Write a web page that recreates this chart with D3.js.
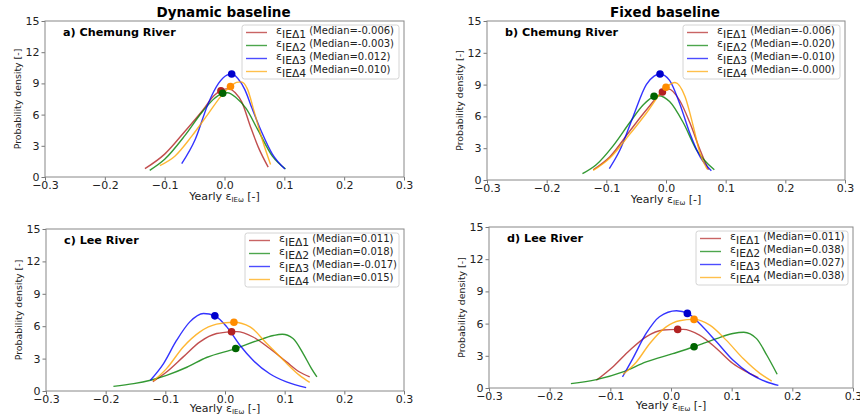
<!DOCTYPE html>
<html>
<head>
<meta charset="utf-8">
<script src="https://cdn.jsdelivr.net/npm/d3@7"></script>
<style>
  body { margin: 0; background: #fff; }
  text { font-family: "DejaVu Sans", sans-serif; }
</style>
</head>
<body>
<svg id="chart" width="860" height="417"></svg>
<script>
// series: eps_IEΔ1..4
const seriesSub = ["IEΔ1", "IEΔ2", "IEΔ3", "IEΔ4"];
const lineColors = ["#b22222", "green", "blue", "orange"];
const dotColors = ["#b22222", "darkgreen", "mediumblue", "darkorange"];
const xTicks = [-0.3, -0.2, -0.1, 0.0, 0.1, 0.2, 0.3];
const yTicks = [0, 3, 6, 9, 12, 15];

// medians shown in legends (as printed)
const medA = ["-0.006", "-0.003", "0.012", "0.010"];
const medB = ["-0.006", "-0.020", "-0.010", "-0.000"];
const medC = ["0.011", "0.018", "-0.017", "0.015"];
const medD = ["0.011", "0.038", "0.027", "0.038"];

// density at the median dot
const dotYA = [8.3, 8.05, 9.9, 8.7];
const dotYB = [8.3, 7.9, 10.0, 8.75];
const dotYC = [5.48, 3.93, 6.96, 6.37];
const dotYD = [5.46, 3.84, 6.95, 6.39];

// density curves, [x, density]
const curvesA = [
  [[-0.133,0.8],[-0.1,2.2],[-0.066,4.4],[-0.038,6.3],[-0.016,7.9],[-0.006,8.3],[0.006,8.5],[0.018,8.1],[0.029,7.2],[0.043,4.9],[0.057,2.8],[0.073,0.95]],
  [[-0.125,0.64],[-0.1,1.7],[-0.066,4.0],[-0.038,6.2],[-0.016,7.6],[-0.003,8.05],[0.005,8.1],[0.02,7.6],[0.036,6.6],[0.056,4.5],[0.08,2.0],[0.102,0.77]],
  [[-0.0715,1.28],[-0.049,3.6],[-0.027,7.1],[-0.01,9.0],[0.004,9.8],[0.012,9.9],[0.022,9.5],[0.034,8.4],[0.046,6.6],[0.063,4.2],[0.08,2.2],[0.101,0.77]],
  [[-0.108,1.1],[-0.083,2.0],[-0.055,3.9],[-0.027,6.1],[-0.004,7.9],[0.010,8.7],[0.02,9.1],[0.028,9.15],[0.038,8.5],[0.05,6.2],[0.063,3.6],[0.077,1.2]]
];
const curvesB = [
  [[-0.122,0.97],[-0.094,2.2],[-0.061,4.6],[-0.033,6.6],[-0.006,8.3],[0.004,8.6],[0.023,7.5],[0.040,5.4],[0.057,2.85],[0.071,0.97]],
  [[-0.140,0.6],[-0.117,1.44],[-0.089,3.2],[-0.061,5.4],[-0.038,7.1],[-0.019,7.9],[-0.012,7.95],[0.006,7.4],[0.029,5.4],[0.051,2.85],[0.081,0.97]],
  [[-0.095,1.07],[-0.077,2.85],[-0.055,6.0],[-0.033,9.0],[-0.02,9.8],[-0.010,10.0],[0.006,9.4],[0.023,7.2],[0.040,4.4],[0.057,2.2],[0.076,0.88]],
  [[-0.122,0.9],[-0.094,2.07],[-0.061,4.3],[-0.033,6.3],[0.000,8.75],[0.015,9.2],[0.032,7.85],[0.046,5.0],[0.057,2.5],[0.069,1.03]]
];
const curvesC = [
  [[-0.121,0.87],[-0.098,1.76],[-0.070,3.16],[-0.042,4.55],[-0.014,5.32],[0.011,5.48],[0.020,5.5],[0.047,5.0],[0.075,3.93],[0.103,2.7],[0.125,1.76],[0.142,1.3]],
  [[-0.187,0.43],[-0.153,0.68],[-0.125,1.0],[-0.098,1.45],[-0.064,2.2],[-0.031,3.1],[0.018,3.93],[0.053,4.64],[0.081,5.14],[0.096,5.26],[0.114,4.86],[0.131,3.47],[0.145,2.07],[0.154,1.3]],
  [[-0.125,1.0],[-0.103,2.54],[-0.081,4.7],[-0.059,6.4],[-0.036,7.18],[-0.017,6.96],[0.003,5.94],[0.025,4.24],[0.047,2.85],[0.075,1.6],[0.103,0.84],[0.136,0.31]],
  [[-0.120,0.93],[-0.098,2.07],[-0.070,4.08],[-0.042,5.48],[-0.014,6.19],[0.015,6.37],[0.042,5.94],[0.070,4.4],[0.098,2.85],[0.125,1.45],[0.142,0.8]]
];
const curvesD = [
  [[-0.123,0.72],[-0.096,1.96],[-0.068,3.52],[-0.041,4.77],[-0.013,5.4],[0.011,5.46],[0.020,5.46],[0.047,4.93],[0.075,3.68],[0.102,2.28],[0.125,1.5],[0.144,0.97]],
  [[-0.165,0.41],[-0.123,0.78],[-0.079,1.5],[-0.041,2.43],[0.003,3.2],[0.038,3.84],[0.075,4.6],[0.102,5.08],[0.120,5.2],[0.141,4.6],[0.158,3.05],[0.175,1.28]],
  [[-0.080,1.03],[-0.063,2.74],[-0.041,5.08],[-0.019,6.64],[0.009,7.2],[0.028,6.95],[0.047,6.0],[0.075,4.3],[0.102,2.6],[0.130,1.34],[0.158,0.56],[0.177,0.25]],
  [[-0.079,1.28],[-0.057,2.43],[-0.035,4.15],[-0.008,5.7],[0.014,6.27],[0.038,6.39],[0.064,5.86],[0.091,4.46],[0.119,2.74],[0.147,1.34],[0.166,0.65]]
];

const svg = d3.select("#chart");

function drawPanel(p)
{
    const x = d3.scaleLinear().domain([-0.3, 0.3]).range([p.left, p.right]);
    const y = d3.scaleLinear().domain([0, 15]).range([p.bottom, p.top]);
    const g = svg.append("g");

    // axes
    const xa = g.append("g")
        .attr("transform", `translate(0,${p.bottom})`)
        .call(d3.axisBottom(x).tickValues(xTicks).tickSize(3.5).tickPadding(1)
            .tickFormat(d => d3.format(".1f")(d).replace("-", "\u2212")));
    const ya = g.append("g")
        .attr("transform", `translate(${p.left},0)`)
        .call(d3.axisLeft(y).tickValues(yTicks).tickSize(3.5).tickPadding(2));
    [xa, ya].forEach(a => {
        a.select(".domain").remove();
        a.selectAll("line").attr("stroke", "#777");
        a.selectAll("text").attr("fill", "#222").style("font-size", "11px")
            .style("font-family", "DejaVu Sans");
    });

    // frame
    g.append("rect")
        .attr("x", p.left).attr("y", p.top)
        .attr("width", p.right - p.left).attr("height", p.bottom - p.top)
        .attr("fill", "none").attr("stroke", "#888").attr("stroke-width", 1);

    const line = d3.line()
        .x(d => x(d[0]))
        .y(d => y(d[1]))
        .curve(d3.curveMonotoneX);

    p.curves.forEach(function(c, i)
    {
        g.append("path")
            .datum(c)
            .attr("fill", "none")
            .attr("stroke", lineColors[i])
            .attr("stroke-opacity", 0.8)
            .attr("stroke-width", 1.4)
            .attr("d", line);
    });
    p.curves.forEach(function(c, i)
    {
        g.append("circle")
            .attr("cx", x(+p.med[i]))
            .attr("cy", y(p.dotY[i]))
            .attr("r", 3.8)
            .attr("fill", dotColors[i]);
    });

    // panel label
    g.append("text")
        .attr("x", p.left + 18).attr("y", p.top + 15)
        .style("font-size", "11.2px").style("font-weight", "bold")
        .text(p.label);

    // axis labels
    g.append("text")
        .attr("transform", `translate(${p.left - 24},${(p.top + p.bottom) / 2}) rotate(-90)`)
        .attr("text-anchor", "middle")
        .attr("fill", "#222")
        .style("font-size", "9.4px")
        .text("Probability density [-]");

    const xl = g.append("text")
        .attr("x", (p.left + p.right) / 2).attr("y", p.bottom + p.xlabDy)
        .attr("text-anchor", "middle")
        .attr("fill", "#222")
        .style("font-size", "11px");
    xl.append("tspan").text("Yearly ε");
    xl.append("tspan").attr("dy", 1.5).style("font-size", "7px").text("IEω");
    xl.append("tspan").attr("dy", -1.5).text(" [-]");

    if (p.title) {
        g.append("text")
            .attr("x", (p.left + p.right) / 2 - 1).attr("y", p.top - 4)
            .attr("text-anchor", "middle")
            .style("font-size", "13.5px").style("font-weight", "bold")
            .text(p.title);
    }

    // legend
    const lw = p.legW, lx = p.right - 5 - lw, ly = p.top + 4;
    const lg = g.append("g");
    lg.append("rect")
        .attr("x", lx).attr("y", ly).attr("width", lw).attr("height", 54)
        .attr("rx", 2.5)
        .attr("fill", "white").attr("fill-opacity", 0.85)
        .attr("stroke", "#d4d4d4");
    seriesSub.forEach(function(s, i)
    {
        const cy = ly + 7.5 + 13 * i;
        lg.append("line")
            .attr("x1", lx + 4).attr("x2", lx + 25)
            .attr("y1", cy).attr("y2", cy)
            .attr("stroke", lineColors[i]).attr("stroke-opacity", 0.7)
            .attr("stroke-width", 1.4);
        const t = lg.append("text")
            .attr("x", lx + 34).attr("y", cy + 1)
            .attr("fill", "#222")
            .style("font-size", "11px");
        t.append("tspan").text("ε");
        t.append("tspan").attr("dy", 4).style("font-size", "10.8px").text(s);
        t.append("tspan").attr("dy", -4).attr("dx", 3).style("font-size", "10px")
            .text("(Median=" + p.med[i] + ")");
    });
}

drawPanel({left: 45, right: 404, top: 21, bottom: 177, label: "a) Chemung River", title: "Dynamic baseline",
    curves: curvesA, med: medA, dotY: dotYA, legW: 157, xlabDy: 23});
drawPanel({left: 487, right: 845, top: 21, bottom: 180, label: "b) Chemung River", title: "Fixed baseline",
    curves: curvesB, med: medB, dotY: dotYB, legW: 157, xlabDy: 23});
drawPanel({left: 46, right: 404, top: 229, bottom: 391, label: "c) Lee River",
    curves: curvesC, med: medC, dotY: dotYC, legW: 154, xlabDy: 21});
drawPanel({left: 489, right: 853, top: 227, bottom: 388, label: "d) Lee River",
    curves: curvesD, med: medD, dotY: dotYD, legW: 152, xlabDy: 21});
</script>
</body>
</html>
